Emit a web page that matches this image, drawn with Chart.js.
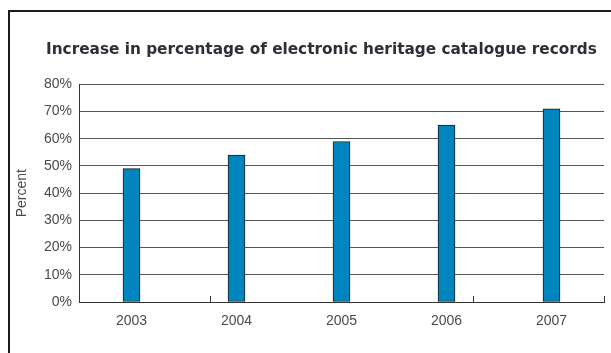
<!DOCTYPE html>
<html>
<head>
<meta charset="utf-8">
<script src="https://cdn.jsdelivr.net/npm/chart.js@4"></script>
<style>
  html, body { margin: 0; padding: 0; background: #fff; }
  #wrap { position: relative; width: 611px; height: 353px; overflow: hidden; }
  #frame { position: absolute; left: 8px; top: 10px; right: -10px; bottom: -10px;
           border-left: 2px solid #1a1a1a; border-top: 2px solid #1a1a1a; }
  #chart { position: absolute; left: 0; top: 0; }
</style>
</head>
<body>
<div id="wrap">
  <div id="frame"></div>
  <canvas id="chart" width="611" height="353"></canvas>
</div>
<script>
// Данные
const years = ['2003', '2004', '2005', '2006', '2007'];
const percentValues = [49, 54, 59, 65, 71];
const yTicks = [0, 10, 20, 30, 40, 50, 60, 70, 80];
// small tick marks on the x axis, in category units
const axisMarks = [0.75, 3.25, 4.5];

const textGray = '#4a4a4a';
const font = 'Liberation Sans, Arial, sans-serif';

// short marks standing up from the x axis
const axisMarksPlugin = {
  id: 'axisMarks',
  afterLayout(chart) {
    // title starts a little to the right of the axis block
    if (chart.titleBlock) chart.titleBlock.left = 46;
  },
  afterDatasetsDraw(chart) {
    const { ctx, chartArea, scales } = chart;
    ctx.save();
    ctx.strokeStyle = '#333';
    ctx.lineWidth = 1;
    axisMarks.forEach(v => {
      const x = Math.round(scales.x.getPixelForValue(v)) + 0.5;
      ctx.beginPath();
      ctx.moveTo(x, chartArea.bottom);
      ctx.lineTo(x, chartArea.bottom - 6);
      ctx.stroke();
    });
    ctx.restore();
  }
};

new Chart(document.getElementById('chart'), {
  type: 'bar',
  data: {
    labels: years,
    datasets: [{
      label: 'Percent',
      data: percentValues,
      backgroundColor: '#0085BF',
      borderColor: '#1a1a1a',
      borderWidth: 1,
      borderSkipped: false,
      barThickness: 17
    }]
  },
  options: {
    responsive: false,
    animation: false,
    layout: { padding: { left: 12, right: 7, top: 20, bottom: 0 } },
    plugins: {
      legend: { display: false },
      tooltip: { enabled: false },
      title: {
        display: true,
        text: 'Increase in percentage of electronic heritage catalogue records',
        align: 'start',
        color: '#2e2e38',
        font: { family: 'DejaVu Sans', size: 15.3, weight: 'bold' },
        padding: { top: 21, bottom: 25 }
      }
    },
    scales: {
      x: {
        grid: { display: false, drawTicks: false },
        border: { color: '#333', width: 1 },
        ticks: { color: textGray, font: { family: font, size: 14 }, padding: 11 },
        afterFit(scale) { scale.height = 51; }
      },
      y: {
        min: 0,
        max: 80,
        afterBuildTicks(scale) { scale.ticks = yTicks.map(v => ({ value: v })); },
        grid: { color: '#555', lineWidth: 1, drawTicks: false },
        border: { color: '#333', width: 1 },
        ticks: {
          color: textGray,
          font: { family: font, size: 14 },
          padding: 7,
          callback: v => v + '%'
        },
        title: {
          display: true,
          text: 'Percent',
          color: textGray,
          font: { family: font, size: 14 },
          padding: { top: 2, bottom: 0 }
        },
        afterFit(scale) { scale.width = 67; }
      }
    }
  },
  plugins: [axisMarksPlugin]
});
</script>
</body>
</html>
